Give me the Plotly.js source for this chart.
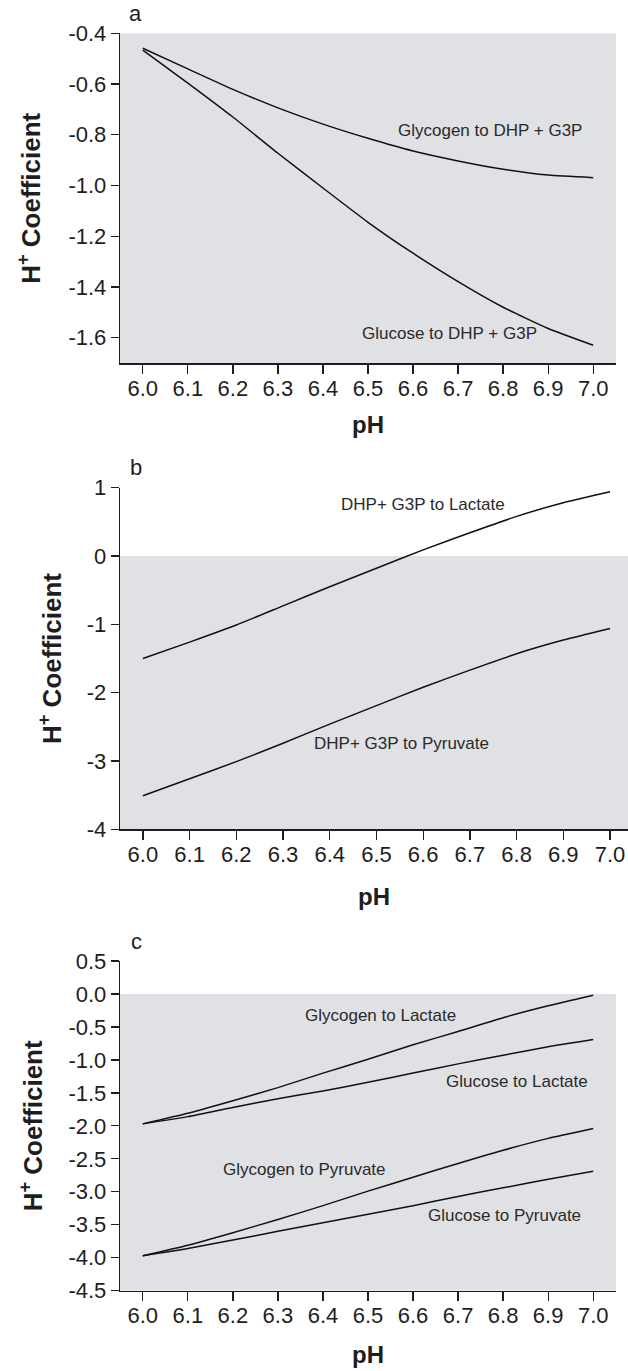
<!DOCTYPE html>
<html>
<head>
<meta charset="utf-8">
<script src="https://cdn.plot.ly/plotly-3.0.1.min.js"></script>
<style>html,body{margin:0;padding:0;background:#fff;}#chart{width:628px;height:1371px;}</style>
</head>
<body>
<div id="chart"></div>
<script>
// ---- data ----
const pH = [6.0, 6.1, 6.2, 6.3, 6.4, 6.5, 6.6, 6.7, 6.8, 6.9, 7.0];
const xTickLabels = ["6.0","6.1","6.2","6.3","6.4","6.5","6.6","6.7","6.8","6.9","7.0"];

// panel a
const glycogenToDHPG3P = [-0.459, -0.540, -0.621, -0.694, -0.758, -0.814, -0.864, -0.903, -0.936, -0.959, -0.969];
const glucoseToDHPG3P  = [-0.466, -0.596, -0.730, -0.873, -1.010, -1.145, -1.267, -1.379, -1.480, -1.564, -1.630];
const yTicksA = [-0.4, -0.6, -0.8, -1.0, -1.2, -1.4, -1.6];
const yTickLabelsA = ["-0.4", "-0.6", "-0.8", "-1.0", "-1.2", "-1.4", "-1.6"];

// panel b
const dhpG3PToLactate  = [-1.50, -1.26, -1.01, -0.73, -0.45, -0.18, 0.09, 0.34, 0.58, 0.78, 0.94];
const dhpG3PToPyruvate = [-3.51, -3.26, -3.01, -2.74, -2.46, -2.19, -1.92, -1.67, -1.43, -1.23, -1.06];
const yTicksB = [1, 0, -1, -2, -3, -4];
const yTickLabelsB = ["1", "0", "-1", "-2", "-3", "-4"];

// panel c
const glycogenToLactate  = [-1.97, -1.81, -1.62, -1.42, -1.20, -0.99, -0.77, -0.57, -0.36, -0.18, -0.02];
const glucoseToLactate   = [-1.97, -1.86, -1.72, -1.59, -1.47, -1.34, -1.20, -1.06, -0.93, -0.80, -0.69];
const glycogenToPyruvate = [-3.97, -3.81, -3.62, -3.42, -3.21, -2.99, -2.78, -2.57, -2.37, -2.19, -2.04];
const glucoseToPyruvate  = [-3.97, -3.86, -3.73, -3.60, -3.47, -3.34, -3.21, -3.07, -2.94, -2.81, -2.69];
const yTicksC = [0.5, 0.0, -0.5, -1.0, -1.5, -2.0, -2.5, -3.0, -3.5, -4.0, -4.5];
const yTickLabelsC = ["0.5", "0.0", "-0.5", "-1.0", "-1.5", "-2.0", "-2.5", "-3.0", "-3.5", "-4.0", "-4.5"];

// ---- styling ----
const W = 628, H = 1371;
const FONT = "Arial, 'Liberation Sans', Helvetica, sans-serif";
const INK = "#1e1e1e";
const GRAY = "#e0e1e4";
const lineStyle = {color: "#111", width: 1.5, shape: "spline", smoothing: 0.5};

function px2fx(p){ return p / W; }
function px2fy(p){ return 1 - p / H; }

const panels = [
  {key:"", xr:[5.9494, 7.0506], yr:[-1.701, -0.4], xd:[120,616], yd:[33.3,363.3], yt:yTicksA, ytl:yTickLabelsA,
   ysd:20, xsd:16, series:[glycogenToDHPG3P, glucoseToDHPG3P]},
  {key:"2", xr:[5.951, 7.0385], yr:[-4, 1], xd:[120,628], yd:[487.7,829.3], yt:yTicksB, ytl:yTickLabelsB,
   ysd:17, xsd:22, series:[dhpG3PToLactate, dhpG3PToPyruvate]},
  {key:"3", xr:[5.9494, 7.0506], yr:[-4.5, 0.5], xd:[120,616], yd:[961,1290.7], yt:yTicksC, ytl:yTickLabelsC,
   ysd:18, xsd:18, series:[glycogenToLactate, glucoseToLactate, glycogenToPyruvate, glucoseToPyruvate]}
];

const data = [];
const layout = {
  width: W, height: H,
  margin: {l:0, r:0, t:0, b:0},
  paper_bgcolor: "#fff", plot_bgcolor: "rgba(0,0,0,0)",
  showlegend: false,
  font: {family: FONT, color: INK},
  shapes: [], annotations: []
};

panels.forEach((p, i) => {
  const xa = "x" + p.key, ya = "y" + p.key;
  p.series.forEach(s => data.push({x: pH, y: s, xaxis: xa, yaxis: ya, type: "scatter", mode: "lines", line: lineStyle, hoverinfo: "skip"}));
  layout["xaxis" + p.key] = {
    domain: [px2fx(p.xd[0]), px2fx(p.xd[1])], range: p.xr, anchor: ya,
    showline: true, linecolor: INK, linewidth: 1.3, showgrid: false, zeroline: false,
    ticks: "outside", ticklen: 9, tickwidth: 1.3, tickcolor: INK,
    tickvals: pH, ticktext: xTickLabels, tickfont: {family: FONT, size: 22, color: INK},
    ticklabelstandoff: -4,
    title: {text: "<b>pH</b>", font: {family: FONT, size: 24, color: INK}, standoff: p.xsd},
    fixedrange: true
  };
  layout["yaxis" + p.key] = {
    domain: [px2fy(p.yd[1]), px2fy(p.yd[0])], range: p.yr, anchor: xa,
    showline: true, linecolor: INK, linewidth: 1.3, showgrid: false, zeroline: false,
    ticks: "outside", ticklen: 8, tickwidth: 1.3, tickcolor: INK,
    tickvals: p.yt, ticktext: p.ytl, tickfont: {family: FONT, size: 22, color: INK},
    ticklabelstandoff: 0,
    title: {text: "<b>H<sup>+</sup> Coefficient</b>", font: {family: FONT, size: 26, color: INK}, standoff: p.ysd},
    fixedrange: true
  };
  // grey area for negative coefficients
  layout.shapes.push({type: "rect", layer: "below", xref: xa + " domain", yref: ya,
    x0: 0, x1: 1, y0: p.yr[0], y1: Math.min(0, p.yr[1]), fillcolor: GRAY, line: {width: 0}});
});

// panel letters
[["a", 135, 14], ["b", 136, 467], ["c", 136, 941]].forEach(([t, x, y]) => {
  layout.annotations.push({text: t, xref: "paper", yref: "paper", x: px2fx(x), y: px2fy(y),
    xanchor: "center", yanchor: "middle",
    showarrow: false, font: {family: FONT, size: 22, color: INK}});
});

// curve labels (text positioned in data units)
const labels = [
  ["Glycogen to DHP + G3P", "x", "y", 6.771, -0.785],
  ["Glucose to DHP + G3P", "x", "y", 6.680, -1.585],
  ["DHP+ G3P to Lactate", "x2", "y2", 6.600, 0.75],
  ["DHP+ G3P to Pyruvate", "x2", "y2", 6.553, -2.75],
  ["Glycogen to Lactate", "x3", "y3", 6.527, -0.33],
  ["Glucose to Lactate", "x3", "y3", 6.830, -1.32],
  ["Glycogen to Pyruvate", "x3", "y3", 6.359, -2.66],
  ["Glucose to Pyruvate", "x3", "y3", 6.802, -3.365]
];
labels.forEach(([t, xr, yr, x, y]) => {
  layout.annotations.push({text: t, xref: xr, yref: yr, x: x, y: y, showarrow: false,
    xanchor: "center", yanchor: "middle",
    font: {family: FONT, size: 17, color: "#2a2a2a"}});
});

Plotly.newPlot("chart", data, layout, {staticPlot: true, displayModeBar: false});
</script>
</body>
</html>
